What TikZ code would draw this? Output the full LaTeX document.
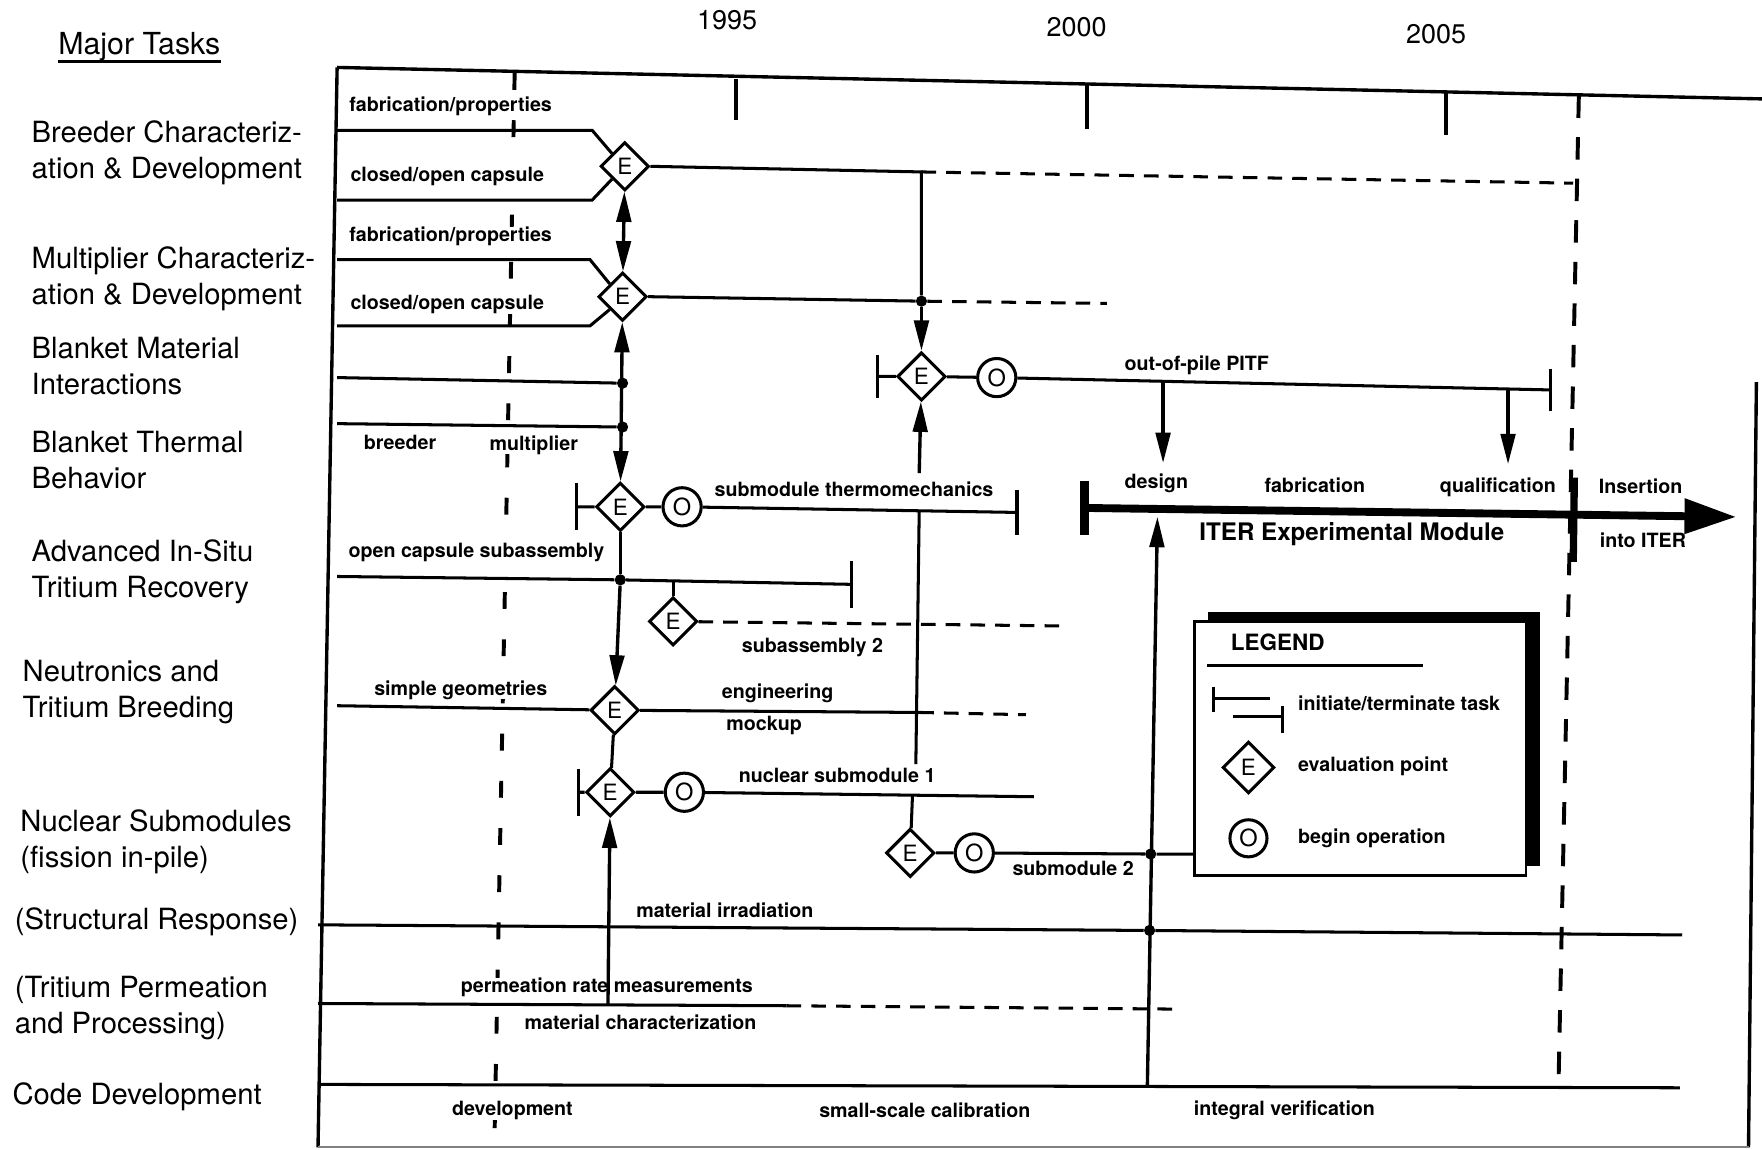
\documentclass[tikz,border=0pt]{standalone}
\usepackage{fontspec}
\setmainfont{TeX Gyre Heros}
\usetikzlibrary{arrows.meta}
\usetikzlibrary{positioning,calc,shapes.geometric}
\tikzset{
    evalpt/.style={
        draw,
        diamond,
        fill=white,
        minimum size=43pt,
        inner sep=0pt,
        line width=2.7pt,
        font=\fontsize{20}{20}\selectfont
    },
    beginop/.style={
        draw,
        circle,
        fill=white,
        minimum size=34pt,
        inner sep=0pt,
        line width=2.7pt,
        font=\fontsize{21}{21}\selectfont
    },
    task/.style={anchor=west, align=left, inner sep=0pt, font=\fontsize{26}{32}\selectfont},
    lbl/.style={inner sep=0pt, fill=white, font=\fontsize{17.5}{18}\selectfont\bfseries},
    year/.style={inner sep=0pt, font=\fontsize{24}{24}\selectfont},
    dot/.style={circle, fill=black, minimum size=10pt, inner sep=0pt},
    link/.style={line width=2.7pt},
    later/.style={line width=2.7pt, dash pattern=on 13pt off 9pt},
    flow/.style={line width=3pt, -{Triangle[length=27pt, width=13pt]}},
    both/.style={line width=3pt, {Triangle[length=27pt, width=13pt]}-{Triangle[length=27pt, width=13pt]}},
    guide/.style={line width=3.5pt, dash pattern=on 15pt off 27pt},
    endbar/.style={line width=3pt}
}
\newcommand{\taskbar}[3]{\draw[endbar] (#1,#2-#3) -- (#1,#2+#3);}

\begin{document}
\begin{tikzpicture}[x=1pt, y=-1pt]
  \useasboundingbox (0,0) rectangle (1568,1023);

  % Heading and years
  \node[inner sep=0pt, font=\fontsize{27}{27}\selectfont] (head) at (124,42) {Major Tasks};
  \draw[line width=2.2pt] ([yshift=-6pt]head.base west) -- ([yshift=-6pt]head.base east);
  \node[year] (y95) at (647,18) {1995};
  \node[year] (y00) at (958,24) {2000};
  \node[year] (y05) at (1278,30) {2005};

  % Frame and time axis
  \draw[line width=3pt] (300,60) -- (1568,88);
  \draw[line width=3pt] (300,60) -- (283,1021);
  \draw[line width=3pt] (1563,340) -- (1556,1021);
  \draw[line width=1.5pt, gray] (283,1021) -- (1556,1021);
  \draw[line width=3.5pt] (655,70) -- (655,107);
  \draw[line width=3.5pt] (967,76) -- (967,115);
  \draw[line width=3.5pt] (1287,82) -- (1287,120);

  % Guide lines
  \draw[guide] (458,65) -- (440,1015);
  \draw[line width=3.5pt, dash pattern=on 20pt off 17pt] (1405,85) -- (1387,960);
  \draw[line width=6.5pt] (1401,425) -- (1400,500);

  % Major tasks
  \node[task] (t1) at (28,136) {Breeder Characteriz-\\ation \& Development};
  \node[task] (t2) at (28,248) {Multiplier Characteriz-\\ation \& Development};
  \node[task] (t3) at (28,326) {Blanket Material\\Interactions};
  \node[task] (t4) at (28,409) {Blanket Thermal\\Behavior};
  \node[task] (t5) at (28,509) {Advanced In-Situ\\Tritium Recovery};
  \node[task] (t6) at (20,616) {Neutronics and\\Tritium Breeding};
  \node[task] (t7) at (18,749) {Nuclear Submodules\\(fission in-pile)};
  \node[task] (t8) at (13,820) {(Structural Response)};
  \node[task] (t9) at (13,897) {(Tritium Permeation\\and Processing)};
  \node[task] (t10) at (11,976) {Code Development};

  % Task labels
  \node[lbl] (l1) at (401,95) {fabrication/properties};
  \node[lbl] (l2) at (398,157) {closed/open capsule};
  \node[lbl] (l3) at (401,210) {fabrication/properties};
  \node[lbl] (l4) at (398,271) {closed/open capsule};
  \node[lbl] (l5) at (356,394) {breeder};
  \node[lbl] (l6) at (475,396) {multiplier};
  \node[lbl] (l7) at (1065,325) {out-of-pile PITF};
  \node[lbl] (l8) at (760,435) {submodule thermomechanics};
  \node[lbl] (l9) at (424,492) {open capsule subassembly};
  \node[lbl] (l10) at (723,576) {subassembly 2};
  \node[lbl] (l11) at (410,614) {simple geometries};
  \node[lbl] (l12) at (692,617) {engineering};
  \node[lbl] (l13) at (680,646) {mockup};
  \node[lbl] (l14) at (745,690) {nuclear submodule 1};
  \node[lbl] (l15) at (955,773) {submodule 2};
  \node[lbl] (l16) at (645,810) {material irradiation};
  \node[lbl] (l17) at (540,879) {permeation rate measurements};
  \node[lbl] (l18) at (570,910) {material characterization};
  \node[lbl] (l19) at (456,988) {development};
  \node[lbl] (l20) at (823,988) {small-scale calibration};
  \node[lbl] (l21) at (1143,988) {integral verification};
  \node[lbl] (l22) at (1029,430) {design};
  \node[lbl] (l23) at (1170,432) {fabrication};
  \node[lbl] (l24) at (1333,434) {qualification};
  \node[lbl] (l25) at (1460,433) {Insertion};
  \node[lbl] (l26) at (1462,481) {into ITER};
  \node[lbl, font=\fontsize{21.5}{22}\selectfont\bfseries] (l27) at (1203,475) {ITER Experimental Module};

  % Evaluation points and begin operation
  \node[evalpt] (e1) at (556,148) {E};
  \node[evalpt] (e2) at (554,264) {E};
  \node[evalpt] (e3) at (820,335) {E};
  \node[evalpt] (e4) at (552,451) {E};
  \node[evalpt] (e6) at (599,553) {E};
  \node[evalpt] (e5) at (547,632) {E};
  \node[evalpt] (e8) at (543,705) {E};
  \node[evalpt] (e7) at (810,759) {E};
  \node[beginop] (o3) at (887,336) {O};
  \node[beginop] (o4) at (607,451) {O};
  \node[beginop] (o8) at (609,705) {O};
  \node[beginop] (o7) at (867,759) {O};

  % Junctions
  \coordinate (j1) at (820,153);
  \node[dot] (j2) at (820,268) {};
  \node[dot] (d1) at (554,341) {};
  \node[dot] (d2) at (554,380) {};
  \node[dot] (d3) at (552,516) {};
  \node[dot] (d4) at (1024,760) {};
  \node[dot] (d5) at (1023,828) {};

  % Legend box
  \fill (1075,545) rectangle (1370,771);
  \node[draw, fill=white, line width=2.4pt, minimum width=295pt, minimum height=226pt] (legend) at (1210.5,666) {};

  % Breeder and multiplier
  \draw[link] (300,116) -- (527,116) -- (e1.north west);
  \draw[link] (300,178) -- (527,178) -- (e1.south west);
  \draw[link] (300,231) -- (525,231) -- (e2.north west);
  \draw[link] (300,290) -- (525,290) -- (e2.south west);
  \draw[link] (e1.east) -- (j1) -- (j2);
  \draw[later] (j1) -- (1400,163);
  \draw[link] (e2.east) -- (j2);
  \draw[later] (j2) -- (985,270);
  \draw[both] (e1) -- (e2);

  % Material interactions and thermal behavior
  \draw[link] (300,336) -- (d1);
  \draw[link] (300,377) -- (d2);
  \draw[both] (e2) -- (e4);
  \draw[flow] (j2) -- (e3);
  \taskbar{781}{335}{19}
  \draw[link] (781,335) -- (e3) -- (o3) -- (1380,347);
  \taskbar{1380}{347}{19}
  \draw[flow] (1035,339) -- (1035,412);
  \draw[flow] (1342,346) -- (1342,413);
  \taskbar{513}{451}{21}
  \draw[link] (513,451) -- (e4) -- (o4) -- (905,456);
  \taskbar{905}{456}{20}
  \draw[flow] (818,421) -- (e3);
  \draw[link] (818,454) -- (815,680);

  % In-situ recovery
  \draw[link] (300,513) -- (d3) -- (758,520);
  \taskbar{758}{520}{21}
  \draw[link] (599,518) -- (e6);
  \draw[later] (e6) -- (943,557);
  \draw[link] (e4) -- (d3);
  \draw[flow] (d3) -- (e5);

  % Neutronics
  \draw[link] (300,628) -- (e5) -- (818,634);
  \draw[later] (818,634) -- (913,636);
  \draw[link] (e5) -- (e8);

  % Nuclear submodules
  \taskbar{515}{705}{21}
  \draw[link] (515,705) -- (e8) -- (o8) -- (920,709);
  \draw[link] (812,708) -- (e7);
  \draw[link] (e7) -- (o7) -- (d4) -- (legend.west |- d4);

  % Structural, permeation, code rows
  \draw[link] (283,823) -- (d5) -- (1497,832);
  \draw[link] (283,893) -- (700,895);
  \draw[later] (700,895) -- (1048,898);
  \draw[flow] (541,895) -- (e8);
  \draw[link] (283,965) -- (1495,968);
  \draw[flow] (1021,968) -- (1030,460);

  % ITER experimental module
  \draw[line width=7.5pt] (965,428) -- (965,476);
  \draw[line width=7pt, -{Triangle[length=46pt, width=30pt]}] (965,452) -- (1545,460);

  % Legend content
  \node[inner sep=0pt, font=\fontsize{20}{20}\selectfont\bfseries] (lgd) at (1137,572) {LEGEND};
  \draw[line width=2.4pt] (1074,592) -- (1266,592);
  \draw[endbar] (1080,611) -- (1080,634);
  \draw[link] (1080,622) -- (1130,622);
  \draw[link] (1097,638) -- (1141,638);
  \draw[endbar] (1141,628) -- (1141,652);
  \node[lbl, anchor=west] (lg1) at (1155,626) {initiate/terminate task};
  \node[evalpt, minimum size=46pt] (lge) at (1111,683) {E};
  \node[lbl, anchor=west] (lg2) at (1155,682) {evaluation point};
  \node[beginop, minimum size=33pt] (lgo) at (1111,746) {O};
  \node[lbl, anchor=west] (lg3) at (1155,746) {begin operation};
\end{tikzpicture}
\end{document}
